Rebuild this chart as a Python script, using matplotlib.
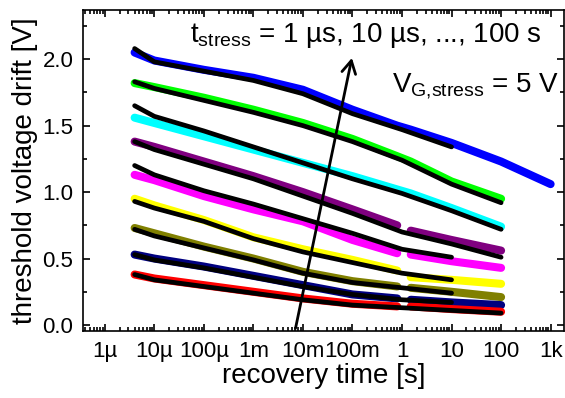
import numpy as np
import matplotlib
matplotlib.use('Agg')
import matplotlib.pyplot as plt
from matplotlib.ticker import FixedLocator, LogLocator, NullFormatter, MultipleLocator

plt.rcParams['font.family'] = ['Liberation Sans', 'DejaVu Sans']
plt.rcParams['mathtext.fontset'] = 'custom'
plt.rcParams['mathtext.rm'] = 'Liberation Sans'
plt.rcParams['mathtext.it'] = 'Liberation Sans'

t_meas = [4e-6, 1e-5, 1e-4, 1e-3, 1e-2, 1e-1, 0.8, 1.5, 10, 100, 1000]
t_fit = [4e-6, 1e-5, 1e-4, 1e-3, 1e-2, 1e-1, 1, 10, 100]

nan = np.nan
# measured drift, one list per stress time (100 s ... 1 us)
meas_100s = [2.05, 1.99, 1.92, 1.86, 1.77, 1.62, 1.50, 1.47, 1.37, 1.23, 1.06]
meas_10s = [1.82, 1.79, 1.71, 1.62, 1.52, 1.40, 1.27, 1.23, 1.08, 0.95, nan]
meas_1s = [1.56, 1.52, 1.42, 1.32, 1.22, 1.12, 1.02, 0.99, 0.88, 0.74, nan]
meas_100ms = [1.38, 1.34, 1.23, 1.12, 1.00, 0.87, 0.75, 0.71, 0.64, 0.56, nan]
meas_10ms = [1.13, 1.09, 0.97, 0.87, 0.78, 0.64, 0.54, 0.53, 0.48, 0.43, nan]
meas_1ms = [0.95, 0.90, 0.79, 0.66, 0.57, 0.49, 0.41, 0.36, 0.34, 0.31, nan]
meas_100us = [0.73, 0.69, 0.59, 0.50, 0.40, 0.33, 0.29, 0.28, 0.25, 0.21, nan]
meas_10us = [0.53, 0.50, 0.44, 0.37, 0.30, 0.23, 0.20, 0.19, 0.17, 0.15, nan]
meas_1us = [0.38, 0.35, 0.30, 0.25, 0.20, 0.16, 0.14, 0.14, 0.12, 0.10, nan]

# model fits (black)
fit_100s = [2.08, 1.98, 1.91, 1.84, 1.74, 1.59, 1.47, 1.34, nan]
fit_10s = [1.83, 1.78, 1.69, 1.60, 1.50, 1.38, 1.24, 1.06, 0.92]
fit_1s = [1.65, 1.57, 1.46, 1.34, 1.22, 1.10, 0.99, 0.86, 0.72]
fit_100ms = [1.38, 1.32, 1.21, 1.10, 0.97, 0.84, 0.70, 0.61, 0.51]
fit_10ms = [1.20, 1.13, 1.01, 0.91, 0.80, 0.69, 0.57, 0.51, nan]
fit_1ms = [0.93, 0.88, 0.78, 0.65, 0.55, 0.47, 0.39, 0.34, nan]
fit_100us = [0.72, 0.67, 0.58, 0.49, 0.39, 0.32, 0.28, 0.24, nan]
fit_10us = [0.53, 0.49, 0.43, 0.36, 0.29, 0.23, 0.19, 0.17, nan]
fit_1us = [0.38, 0.34, 0.29, 0.24, 0.19, 0.15, 0.13, 0.11, 0.09]

meas = [meas_100s, meas_10s, meas_1s, meas_100ms, meas_10ms, meas_1ms, meas_100us, meas_10us, meas_1us]
fits = [fit_100s, fit_10s, fit_1s, fit_100ms, fit_10ms, fit_1ms, fit_100us, fit_10us, fit_1us]
colors = ['#0000ff', '#00ff00', '#00ffff', '#800080', '#ff00ff', '#ffff00', '#808000', '#000080', '#ff0000']
has_gap = [False, False, False, True, True, True, True, True, True]

xtick_pos = [1e-6, 1e-5, 1e-4, 1e-3, 1e-2, 1e-1, 1, 10, 100, 1000]
xtick_lab = ['1µ', '10µ', '100µ', '1m', '10m', '100m', '1', '10', '100', '1k']

fig = plt.figure(figsize=(5.65, 3.98), dpi=100)
ax = fig.add_axes([83/565, 1-331/398, 481/565, 321/398])

t_meas = np.array(t_meas)
for m, c, g in zip(meas, colors, has_gap):
	m = np.array(m)
	if g:
		early = t_meas <= 0.8
		ax.plot(t_meas[early], m[early], color=c, lw=5.8, solid_capstyle='round', zorder=2)
		ax.plot(t_meas[~early], m[~early], color=c, lw=5.8, solid_capstyle='round', zorder=2)
	else:
		ax.plot(t_meas, m, color=c, lw=5.8, solid_capstyle='round', zorder=2)

for f in fits:
	ax.plot(t_fit, f, color='k', lw=3.4, solid_capstyle='round', zorder=3)

ax.annotate('', xy=(0.10, 2.03), xytext=(6.9e-3, -0.045),
	arrowprops=dict(arrowstyle='->,head_length=0.45,head_width=0.25', lw=2, color='k', mutation_scale=20),
	annotation_clip=False, zorder=4)

ax.text(0.222, 0.900, r'$\mathregular{t_{stress}}$ = 1 µs, 10 µs, ..., 100 s', transform=ax.transAxes,
	fontsize=20, ha='left', va='baseline')
ax.text(0.642, 0.745, r'$\mathregular{V_{G{,}stress}}$ = 5 V', transform=ax.transAxes,
	fontsize=20, ha='left', va='baseline')

ax.set_xscale('log')
ax.set_xlim(10**-6.44, 10**3.27)
ax.set_ylim(-0.045, 2.37)
ax.xaxis.set_major_locator(FixedLocator(xtick_pos))
ax.set_xticklabels(xtick_lab)
ax.xaxis.set_minor_locator(LogLocator(base=10, subs=np.arange(2, 10), numticks=20))
ax.xaxis.set_minor_formatter(NullFormatter())
ax.yaxis.set_major_locator(MultipleLocator(0.5))
ax.yaxis.set_minor_locator(MultipleLocator(0.25))
ax.yaxis.set_major_formatter(matplotlib.ticker.FormatStrFormatter('%.1f'))

ax.tick_params(which='both', direction='in', top=True, right=True, labelsize=16, width=1.2)
ax.tick_params(which='major', length=5, pad=7)
ax.tick_params(which='minor', length=3)
for s in ax.spines.values():
	s.set_linewidth(1.2)

ax.set_xlabel('recovery time [s]', fontsize=20, labelpad=1)
ax.set_ylabel('threshold voltage drift [V]', fontsize=20, labelpad=3)

fig.savefig('out.png', dpi=100)
